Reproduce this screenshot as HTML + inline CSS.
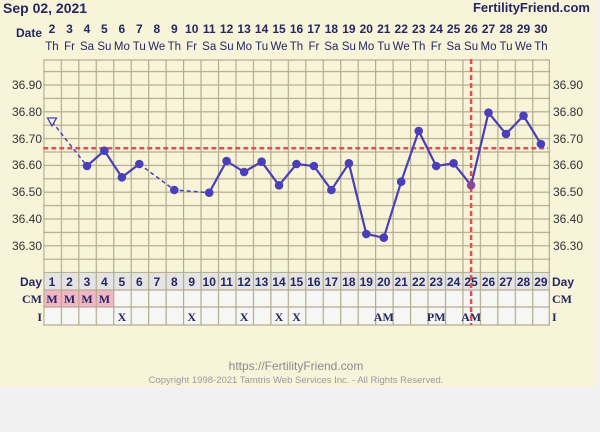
<!DOCTYPE html>
<html><head><meta charset="utf-8"><style>
html,body{margin:0;padding:0;background:#f1f1f1;}
svg{display:block;font-family:"Liberation Sans",sans-serif;}
</style></head><body>
<svg width="600" height="432" viewBox="0 0 600 432" xmlns="http://www.w3.org/2000/svg">
<defs>
<pattern id="vg" patternUnits="userSpaceOnUse" x="43.3" y="0" width="17.46" height="10">
<rect x="0" y="0" width="1.2" height="10" fill="#b3ab8c"/></pattern>
<pattern id="hg" patternUnits="userSpaceOnUse" x="0" y="71.6" width="10" height="13.4">
<rect x="0" y="-0.6" width="10" height="1.2" fill="#b3ab8c"/><rect x="0" y="12.8" width="10" height="1.2" fill="#b3ab8c"/></pattern>
</defs>
<rect x="0" y="0" width="595" height="387" fill="#f8f4da"/>
<text x="3" y="13" font-size="14" font-weight="bold" fill="#262660">Sep 02, 2021</text>
<text x="590" y="12" font-size="13" font-weight="bold" fill="#262660" text-anchor="end">FertilityFriend.com</text>
<text x="42" y="37" font-size="12" font-weight="bold" fill="#262660" text-anchor="end">Date</text>
<g font-size="12" font-weight="bold" fill="#262660" text-anchor="middle">
<text x="52.0" y="33">2</text><text x="69.5" y="33">3</text><text x="87.0" y="33">4</text><text x="104.4" y="33">5</text><text x="121.9" y="33">6</text><text x="139.3" y="33">7</text><text x="156.8" y="33">8</text><text x="174.3" y="33">9</text><text x="191.7" y="33">10</text><text x="209.2" y="33">11</text><text x="226.6" y="33">12</text><text x="244.1" y="33">13</text><text x="261.6" y="33">14</text><text x="279.0" y="33">15</text><text x="296.5" y="33">16</text><text x="313.9" y="33">17</text><text x="331.4" y="33">18</text><text x="348.9" y="33">19</text><text x="366.3" y="33">20</text><text x="383.8" y="33">21</text><text x="401.2" y="33">22</text><text x="418.7" y="33">23</text><text x="436.2" y="33">24</text><text x="453.6" y="33">25</text><text x="471.1" y="33">26</text><text x="488.5" y="33">27</text><text x="506.0" y="33">28</text><text x="523.5" y="33">29</text><text x="540.9" y="33">30</text>
</g>
<g font-size="11.5" fill="#262660" text-anchor="middle">
<text x="52.0" y="50">Th</text><text x="69.5" y="50">Fr</text><text x="87.0" y="50">Sa</text><text x="104.4" y="50">Su</text><text x="121.9" y="50">Mo</text><text x="139.3" y="50">Tu</text><text x="156.8" y="50">We</text><text x="174.3" y="50">Th</text><text x="191.7" y="50">Fr</text><text x="209.2" y="50">Sa</text><text x="226.6" y="50">Su</text><text x="244.1" y="50">Mo</text><text x="261.6" y="50">Tu</text><text x="279.0" y="50">We</text><text x="296.5" y="50">Th</text><text x="313.9" y="50">Fr</text><text x="331.4" y="50">Sa</text><text x="348.9" y="50">Su</text><text x="366.3" y="50">Mo</text><text x="383.8" y="50">Tu</text><text x="401.2" y="50">We</text><text x="418.7" y="50">Th</text><text x="436.2" y="50">Fr</text><text x="453.6" y="50">Sa</text><text x="471.1" y="50">Su</text><text x="488.5" y="50">Mo</text><text x="506.0" y="50">Tu</text><text x="523.5" y="50">We</text><text x="540.9" y="50">Th</text>
</g>
<!-- table backgrounds -->
<rect x="43.3" y="273" width="506.4" height="17" fill="#e4e4e4"/>
<rect x="43.3" y="290" width="506.4" height="35" fill="#f6f6f4"/>
<rect x="43.8" y="290.5" width="69.3" height="17" fill="#f2b6c6"/>
<!-- grid -->
<rect x="43.3" y="60" width="506.4" height="265" fill="url(#vg)"/>
<rect x="43.3" y="60" width="507" height="213" fill="url(#hg)"/>
<rect x="43.3" y="59.4" width="506.4" height="1.2" fill="#b3ab8c"/>
<rect x="548.7" y="60" width="1.2" height="265" fill="#b3ab8c"/>
<rect x="43.3" y="289.4" width="506.4" height="1.2" fill="#b3ab8c"/>
<rect x="43.3" y="306.4" width="506.4" height="1.2" fill="#b3ab8c"/>
<rect x="43.3" y="324.4" width="506.4" height="1.2" fill="#b3ab8c"/>
<!-- y labels -->
<g font-size="12" fill="#333">
<text x="42" y="89" text-anchor="end">36.90</text><text x="42" y="116" text-anchor="end">36.80</text><text x="42" y="143" text-anchor="end">36.70</text><text x="42" y="169" text-anchor="end">36.60</text><text x="42" y="196" text-anchor="end">36.50</text><text x="42" y="223" text-anchor="end">36.40</text><text x="42" y="250" text-anchor="end">36.30</text>
<text x="553" y="89">36.90</text><text x="553" y="116">36.80</text><text x="553" y="143">36.70</text><text x="553" y="169">36.60</text><text x="553" y="196">36.50</text><text x="553" y="223">36.40</text><text x="553" y="250">36.30</text>
</g>
<!-- table labels -->
<g font-size="12" font-weight="bold" fill="#262660">
<text x="42" y="286" text-anchor="end">Day</text>
<text x="42" y="303" text-anchor="end" font-family="Liberation Serif,serif">CM</text>
<text x="42" y="321" text-anchor="end" font-family="Liberation Serif,serif">I</text>
<text x="552" y="286">Day</text>
<text x="552" y="303" font-family="Liberation Serif,serif">CM</text>
<text x="552" y="321" font-family="Liberation Serif,serif">I</text>
</g>
<g font-size="12" font-weight="bold" fill="#262660" text-anchor="middle">
<text x="52.0" y="286">1</text><text x="69.5" y="286">2</text><text x="87.0" y="286">3</text><text x="104.4" y="286">4</text><text x="121.9" y="286">5</text><text x="139.3" y="286">6</text><text x="156.8" y="286">7</text><text x="174.3" y="286">8</text><text x="191.7" y="286">9</text><text x="209.2" y="286">10</text><text x="226.6" y="286">11</text><text x="244.1" y="286">12</text><text x="261.6" y="286">13</text><text x="279.0" y="286">14</text><text x="296.5" y="286">15</text><text x="313.9" y="286">16</text><text x="331.4" y="286">17</text><text x="348.9" y="286">18</text><text x="366.3" y="286">19</text><text x="383.8" y="286">20</text><text x="401.2" y="286">21</text><text x="418.7" y="286">22</text><text x="436.2" y="286">23</text><text x="453.6" y="286">24</text><text x="471.1" y="286">25</text><text x="488.5" y="286">26</text><text x="506.0" y="286">27</text><text x="523.5" y="286">28</text><text x="540.9" y="286">29</text>
</g>
<g font-size="12" font-weight="bold" fill="#262660" text-anchor="middle" font-family="Liberation Serif,serif">
<text x="52.0" y="303">M</text><text x="69.5" y="303">M</text><text x="87.0" y="303">M</text><text x="104.4" y="303">M</text>
<text x="121.9" y="321">X</text><text x="191.7" y="321">X</text><text x="244.1" y="321">X</text><text x="279.0" y="321">X</text><text x="296.5" y="321">X</text>
<text x="383.8" y="321">AM</text><text x="436.2" y="321">PM</text><text x="471.1" y="321">AM</text>
</g>
<!-- coverline & ovulation line -->
<line x1="43.3" y1="148.3" x2="548" y2="148.3" stroke="#d9534f" stroke-width="2.5" stroke-dasharray="5,3"/>
<line x1="471.1" y1="59" x2="471.1" y2="325" stroke="#d9534f" stroke-width="2.5" stroke-dasharray="5,3"/>
<!-- series -->
<g stroke="#4a3fb8" fill="none" stroke-width="1.5" stroke-dasharray="4,3">
<polyline points="52,121.7 87,166"/>
<polyline points="139.3,164 174.3,190 209.2,192.7"/>
</g>
<polyline fill="none" stroke="#4a3fb8" stroke-width="2.2" points="87,166 104.4,150.7 121.9,177.3 139.3,164"/>
<polyline fill="none" stroke="#4a3fb8" stroke-width="2.2" points="209.2,192.7 226.6,161 244.1,172 261.6,161.7 279,185.3 296.5,164 313.9,166 331.4,190 348.9,163.3 366.3,234 383.8,237.7 401.2,181.7 418.7,131 436.2,166 453.6,163.3 471.1,185.3 488.5,112.7 506,134 523.5,115.7 540.9,144"/>
<polygon points="47.5,118 56.5,118 52,126" fill="#f8f4da" stroke="#4a3fb8" stroke-width="1.3"/>
<g fill="#4a3fb8">
<circle cx="87" cy="166" r="4.3"/><circle cx="104.4" cy="150.7" r="4.3"/><circle cx="121.9" cy="177.3" r="4.3"/><circle cx="139.3" cy="164" r="4.3"/><circle cx="174.3" cy="190" r="4.3"/><circle cx="209.2" cy="192.7" r="4.3"/><circle cx="226.6" cy="161" r="4.3"/><circle cx="244.1" cy="172" r="4.3"/><circle cx="261.6" cy="161.7" r="4.3"/><circle cx="279" cy="185.3" r="4.3"/><circle cx="296.5" cy="164" r="4.3"/><circle cx="313.9" cy="166" r="4.3"/><circle cx="331.4" cy="190" r="4.3"/><circle cx="348.9" cy="163.3" r="4.3"/><circle cx="366.3" cy="234" r="4.3"/><circle cx="383.8" cy="237.7" r="4.3"/><circle cx="401.2" cy="181.7" r="4.3"/><circle cx="418.7" cy="131" r="4.3"/><circle cx="436.2" cy="166" r="4.3"/><circle cx="453.6" cy="163.3" r="4.3"/><circle cx="471.1" cy="185.3" r="4.3" fill="#8a4a9a"/><circle cx="488.5" cy="112.7" r="4.3"/><circle cx="506" cy="134" r="4.3"/><circle cx="523.5" cy="115.7" r="4.3"/><circle cx="540.9" cy="144" r="4.3"/>
</g>
<!-- footer -->
<text x="296" y="370" font-size="12" fill="#8a8a8a" text-anchor="middle">https://FertilityFriend.com</text>
<text x="296" y="383" font-size="9.5" fill="#9a9a9a" text-anchor="middle">Copyright 1998-2021 Tamtris Web Services Inc. - All Rights Reserved.</text>
</svg>
</body></html>
